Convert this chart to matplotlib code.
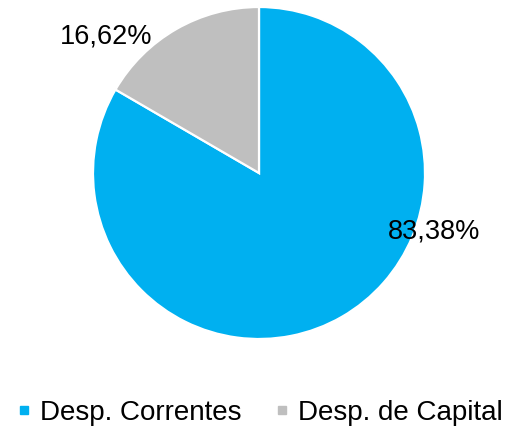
import matplotlib
matplotlib.use("Agg")
import matplotlib.pyplot as plt
from matplotlib.lines import Line2D

plt.rcParams['font.family'] = ['Liberation Sans', 'DejaVu Sans']

categories = ["Desp. Correntes", "Desp. de Capital"]
shares = [83.38, 16.62]
colors = ["#00B0F0", "#BFBFBF"]
# label anchor points in pie-radius units
label_pos = [(1.055, -0.355), (-0.92, 0.82)]

W, H = 508, 433
fig = plt.figure(figsize=(W / 100, H / 100), dpi=100)
cx, cy, r = 259, 173, 166
ax = fig.add_axes([(cx - r) / W, (H - cy - r) / H, 2 * r / W, 2 * r / H])

ax.pie(shares, colors=colors, startangle=90, counterclock=False,
       radius=1.0, wedgeprops=dict(edgecolor="white", linewidth=1.6))
ax.set_xlim(-1, 1)
ax.set_ylim(-1, 1)
ax.set_aspect("equal")
ax.axis("off")

for v, (x, y) in zip(shares, label_pos):
    ax.text(x, y, f"{v:.2f}%".replace(".", ","), ha="center", va="center",
            fontsize=19.5, color="black", clip_on=False)

handles = [Line2D([], [], marker="s", linestyle="none", markersize=5.5,
                  markerfacecolor=c, markeredgecolor=c) for c in colors]
fig.legend(handles, categories, loc="center", bbox_to_anchor=(0.5 + 6 / W, 1 - 413 / H),
           ncol=2, frameon=False, fontsize=20, handlelength=0.45,
           handletextpad=0.35, columnspacing=1.25, borderpad=0, borderaxespad=0)

fig.savefig("out.png", dpi=100)
